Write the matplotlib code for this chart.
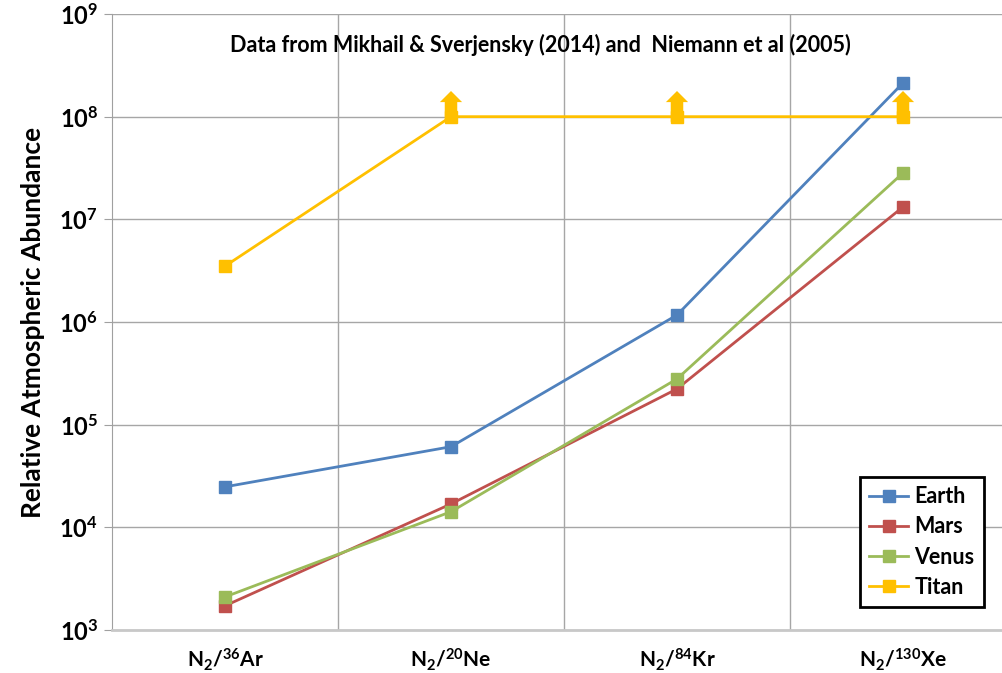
import matplotlib
matplotlib.use('Agg')
import matplotlib.pyplot as plt
from matplotlib.ticker import FixedLocator

plt.rcParams['font.family'] = ['Lato', 'DejaVu Sans']
plt.rcParams['font.weight'] = 'bold'
plt.rcParams['axes.labelweight'] = 'bold'
plt.rcParams['mathtext.fontset'] = 'custom'
plt.rcParams['mathtext.rm'] = 'Lato:bold'
plt.rcParams['mathtext.bf'] = 'Lato:bold'
plt.rcParams['mathtext.it'] = 'Lato:bold'

# data
categories = [r'N$_2$/$^{36}$Ar', r'N$_2$/$^{20}$Ne', r'N$_2$/$^{84}$Kr', r'N$_2$/$^{130}$Xe']
earth = [2.48e4, 6.1e4, 1.17e6, 2.13e8]
mars = [1.72e3, 1.69e4, 2.23e5, 1.32e7]
venus = [2.1e3, 1.42e4, 2.79e5, 2.83e7]
titan = [3.5e6, 1e8, 1e8, 1e8]
titan_lower_limit = [False, True, True, True]

colors = {'Earth': '#4F81BD', 'Mars': '#C0504D', 'Venus': '#9BBB59', 'Titan': '#FFC000'}

fig = plt.figure(figsize=(10.03, 6.73), dpi=100)
ax = fig.add_axes([112/1003, 43/673, 904/1003, 616/673])

x = list(range(1, len(categories) + 1))
for name, vals in [('Earth', earth), ('Mars', mars), ('Venus', venus), ('Titan', titan)]:
    ax.plot(x, vals, color=colors[name], lw=2, marker='s', ms=9, label=name, zorder=3)

# upward arrows for titan lower limits
for xi, v, lim in zip(x, titan, titan_lower_limit):
    if lim:
        ax.annotate('', xy=(xi, v * 10**0.25), xytext=(xi, v * 10**-0.05),
                    arrowprops=dict(arrowstyle='simple,head_width=1.6,head_length=0.8,tail_width=0.9',
                                    mutation_scale=10, shrinkA=0, shrinkB=0,
                                    color=colors['Titan'], lw=0), zorder=4)

ax.set_yscale('log')
ax.set_ylim(1e3, 1e9)
ax.set_xlim(0.5, 4.5)
ax.set_yticks([10**k for k in range(3, 10)])
ax.set_yticklabels([r'$10^{%d}$' % k for k in range(3, 10)], fontsize=17)
ax.yaxis.set_minor_locator(FixedLocator([]))

ax.set_xticks(x)
ax.set_xticklabels(categories, fontsize=15)
ax.set_xticks([1.5, 2.5, 3.5], minor=True)
ax.tick_params(axis='x', which='both', length=0, pad=12)
ax.tick_params(axis='y', which='major', length=6, color='#a0a0a0', pad=4)

ax.grid(True, axis='y', which='major', color='#a6a6a6', lw=1)
ax.grid(True, axis='x', which='minor', color='#a6a6a6', lw=1)
ax.set_axisbelow(True)

for s in ['top', 'right']:
    ax.spines[s].set_visible(False)
ax.spines['left'].set_color('#a0a0a0')
ax.spines['bottom'].set_color('#c8c8c8')
ax.spines['bottom'].set_linewidth(2)

ax.set_ylabel('Relative Atmospheric Abundance', fontsize=19, labelpad=10)

fig.text(540/1003, 1 - 45/673, 'Data from Mikhail & Sverjensky (2014) and  Niemann et al (2005)',
         ha='center', va='center', fontsize=15.5)

leg = ax.legend(loc='lower right', bbox_to_anchor=(995/1003, 55/673), bbox_transform=fig.transFigure,
                fontsize=15.5, frameon=True, fancybox=False, handlelength=1.8, handletextpad=0.3,
                borderpad=0.45, labelspacing=0.42)
leg.get_frame().set_edgecolor('black')
leg.get_frame().set_linewidth(2)
leg.get_frame().set_alpha(1)

fig.savefig('out.png', dpi=100)
